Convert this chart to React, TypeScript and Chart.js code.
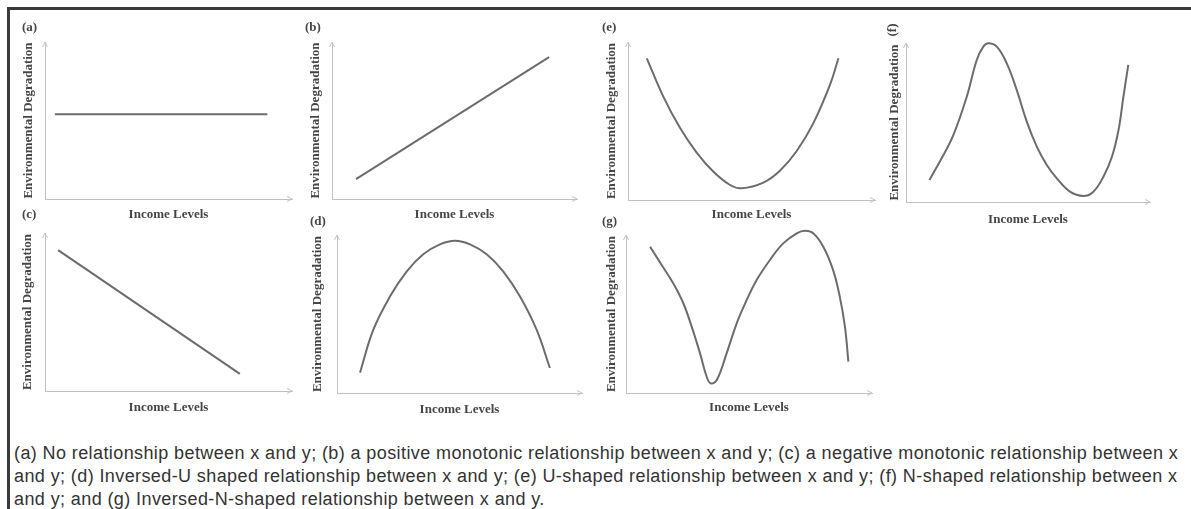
import React, { useEffect, useRef } from "react";
import { Chart, registerables } from "chart.js";

Chart.register(...registerables);

// ---------- text ----------
const X_TITLE = "Income Levels";
const Y_TITLE = "Environmental Degradation";
const PANEL_TAGS = ["(a)", "(b)", "(c)", "(d)", "(e)", "(f)", "(g)"];
const CAPTION_LINES = [
  "(a) No relationship between x and y; (b) a positive monotonic relationship between x and y; (c) a negative monotonic relationship between x",
  "and y; (d) Inversed-U shaped relationship between x and y; (e) U-shaped relationship between x and y; (f) N-shaped relationship between x",
  "and y; and (g) Inversed-N-shaped relationship between x and y.",
];

// ---------- data (income level x, degradation y; axes run 0..10) ----------
const aX = [0.4, 9.0];
const aY = [5.4, 5.4];

const bX = [0.98, 8.86];
const bY = [1.27, 9.04];

const cX = [0.53, 7.89];
const cY = [8.92, 1.08];

const dX = [0.94, 1.48, 2.16, 2.84, 3.52, 4.2, 4.82, 5.43, 6.11, 6.79, 7.47, 8.15, 8.69];
const dY = [1.29, 3.99, 6.1, 7.68, 8.78, 9.41, 9.64, 9.41, 8.78, 7.68, 6.1, 3.99, 1.58];

const eX = [0.76, 1.43, 2.11, 2.78, 3.45, 4.13, 4.6, 5.48, 6.15, 6.83, 7.5, 8.18, 8.52];
const eY = [8.97, 6.54, 4.55, 3.0, 1.8, 0.95, 0.74, 1.1, 1.85, 3.1, 4.85, 7.3, 8.97];

const fX = [0.96, 1.46, 1.94, 2.49, 2.9, 3.17, 3.37, 3.72, 4.13, 4.54, 4.95, 5.36, 5.77, 6.18, 6.72, 7.27, 7.68, 8.09, 8.44, 8.71, 8.91, 9.11];
const fY = [1.38, 2.75, 4.21, 6.62, 8.93, 9.77, 9.98, 9.77, 8.72, 7.04, 5.05, 3.48, 2.33, 1.49, 0.65, 0.38, 0.65, 1.59, 2.85, 4.53, 6.62, 8.62];

const gX = [0.98, 1.45, 1.92, 2.33, 2.67, 3.01, 3.28, 3.44, 3.69, 4.09, 4.5, 4.91, 5.31, 5.85, 6.39, 6.94, 7.28, 7.61, 8.02, 8.42, 8.69, 8.9, 9.04];
const gY = [9.26, 8.1, 6.94, 5.68, 4.2, 2.51, 1.03, 0.61, 0.82, 2.51, 4.41, 5.89, 7.15, 8.42, 9.47, 10.11, 10.27, 10.11, 9.26, 7.78, 6.1, 4.2, 1.98];

// ---------- layout (axis box in page px, title centres, tag offsets) ----------
type Layout = {
  ax0: number; ayT: number; ax1: number; ayB: number;
  ytx: number; xty: number;
  tdx: number; tdy: number; rotTag?: boolean;
};

const PANELS: { tag: string; xs: number[]; ys: number[]; curved: boolean; L: Layout }[] = [
  { tag: PANEL_TAGS[0], xs: aX, ys: aY, curved: false, L: { ax0: 45, ayT: 42, ax1: 292, ayB: 199, ytx: 29, xty: 215, tdx: -23, tdy: -14 } },
  { tag: PANEL_TAGS[1], xs: bX, ys: bY, curved: false, L: { ax0: 332, ayT: 42, ax1: 577, ayB: 199, ytx: 316, xty: 215, tdx: -27, tdy: -14 } },
  { tag: PANEL_TAGS[2], xs: cX, ys: cY, curved: false, L: { ax0: 45, ayT: 233, ax1: 292, ayB: 391, ytx: 28, xty: 408, tdx: -23, tdy: -18 } },
  { tag: PANEL_TAGS[3], xs: dX, ys: dY, curved: true, L: { ax0: 337, ayT: 235, ax1: 582, ayB: 393, ytx: 318, xty: 410, tdx: -27, tdy: -13 } },
  { tag: PANEL_TAGS[4], xs: eX, ys: eY, curved: true, L: { ax0: 628, ayT: 42, ax1: 875, ayB: 200, ytx: 612, xty: 215, tdx: -26, tdy: -14 } },
  { tag: PANEL_TAGS[5], xs: fX, ys: fY, curved: true, L: { ax0: 906, ayT: 43, ax1: 1150, ayB: 202, ytx: 895, xty: 220, tdx: -13, tdy: -13, rotTag: true } },
  { tag: PANEL_TAGS[6], xs: gX, ys: gY, curved: true, L: { ax0: 626, ayT: 235, ax1: 872, ayB: 393, ytx: 612, xty: 408, tdx: -24, tdy: -13 } },
];

const LINE_H = 16;
const PAD_TOP = 24;
const PAD_LEFT = 14;
const PAD_RIGHT = 8;
const AXIS_COLOR = "#c2c2c2";
const CURVE_COLOR = "#6c6c6c";
const TEXT_COLOR = "#464646";
const TITLE_FONT = { family: '"Liberation Serif", "Times New Roman", serif', size: 13, weight: "bold" as const, lineHeight: "16px" };

const axisDecor = {
  id: "axisDecor",
  afterDraw(chart: any, _args: any, opts: any) {
    const { ctx, chartArea } = chart;
    const { left, top, right, bottom } = chartArea;
    ctx.save();
    ctx.strokeStyle = AXIS_COLOR;
    ctx.lineWidth = 1;
    ctx.beginPath();
    ctx.moveTo(right - 5, bottom - 2.5);
    ctx.lineTo(right, bottom);
    ctx.lineTo(right - 5, bottom + 2.5);
    ctx.moveTo(left - 2.5, top + 5);
    ctx.lineTo(left, top);
    ctx.lineTo(left + 2.5, top + 5);
    ctx.stroke();
    ctx.fillStyle = TEXT_COLOR;
    ctx.font = 'bold 13px "Liberation Serif", "Times New Roman", serif';
    ctx.textBaseline = "middle";
    if (opts.rotated) {
      ctx.translate(left + opts.dx, top + opts.dy);
      ctx.rotate(-Math.PI / 2);
      ctx.textAlign = "center";
      ctx.fillText(opts.text, 0, 0);
    } else {
      ctx.textAlign = "left";
      ctx.fillText(opts.text, left + opts.dx, top + opts.dy);
    }
    ctx.restore();
  },
};

function Panel({ p }: { p: (typeof PANELS)[number] }) {
  const ref = useRef<HTMLCanvasElement>(null);
  const L = p.L;
  const canvasLeft = L.ytx - LINE_H / 2 - PAD_LEFT;
  const canvasTop = L.ayT - PAD_TOP;
  const width = L.ax1 + PAD_RIGHT - canvasLeft;
  const height = L.xty + LINE_H / 2 - canvasTop;
  const yTitleGap = L.ax0 - L.ytx - LINE_H / 2;
  const xTitleGap = L.xty - L.ayB - LINE_H / 2;

  useEffect(() => {
    if (!ref.current) return;
    const chart = new Chart(ref.current, {
      type: "line",
      data: {
        datasets: [
          {
            data: p.xs.map((x, i) => ({ x, y: p.ys[i] })),
            borderColor: CURVE_COLOR,
            borderWidth: 2,
            pointRadius: 0,
            fill: false,
            tension: p.curved ? 0.4 : 0,
            clip: false as any,
          },
        ],
      },
      options: {
        responsive: false,
        animation: false,
        events: [],
        layout: { padding: { left: PAD_LEFT, top: PAD_TOP, right: PAD_RIGHT, bottom: 0 } },
        plugins: {
          legend: { display: false },
          tooltip: { enabled: false },
          axisDecor: { text: p.tag, dx: L.tdx, dy: L.tdy, rotated: !!L.rotTag },
        } as any,
        scales: {
          x: {
            type: "linear",
            min: 0,
            max: 10,
            grid: { display: false, drawTicks: false },
            ticks: { display: false },
            border: { display: true, color: AXIS_COLOR, width: 1 },
            title: { display: true, text: X_TITLE, color: TEXT_COLOR, font: TITLE_FONT, padding: { top: xTitleGap, bottom: 0 } },
          },
          y: {
            type: "linear",
            min: 0,
            max: 10,
            grid: { display: false, drawTicks: false },
            ticks: { display: false },
            border: { display: true, color: AXIS_COLOR, width: 1 },
            title: { display: true, text: Y_TITLE, color: TEXT_COLOR, font: TITLE_FONT, padding: { top: 0, bottom: yTitleGap } },
          },
        },
      },
      plugins: [axisDecor],
    });
    return () => chart.destroy();
  }, []);

  return (
    <canvas
      ref={ref}
      width={width}
      height={height}
      style={{ position: "absolute", left: canvasLeft, top: canvasTop, width, height }}
    />
  );
}

export default function App() {
  return (
    <div style={{ position: "absolute", left: 0, top: 0, width: 1191, height: 509, background: "#fff", overflow: "hidden" }}>
      <div style={{ position: "absolute", left: 7, top: 7, width: 1200, height: 520, borderTop: "3px solid #3a3a3a", borderLeft: "3px solid #3a3a3a", boxSizing: "border-box" }} />
      {PANELS.map((p) => (
        <Panel key={p.tag} p={p} />
      ))}
      <div style={{ position: "absolute", left: 14, top: 442, fontFamily: '"Liberation Sans", Arial, sans-serif', fontSize: 18, letterSpacing: "0.4px", lineHeight: "23px", color: "#333", whiteSpace: "nowrap" }}>
        {CAPTION_LINES.map((t, i) => (
          <div key={i}>{t}</div>
        ))}
      </div>
    </div>
  );
}
